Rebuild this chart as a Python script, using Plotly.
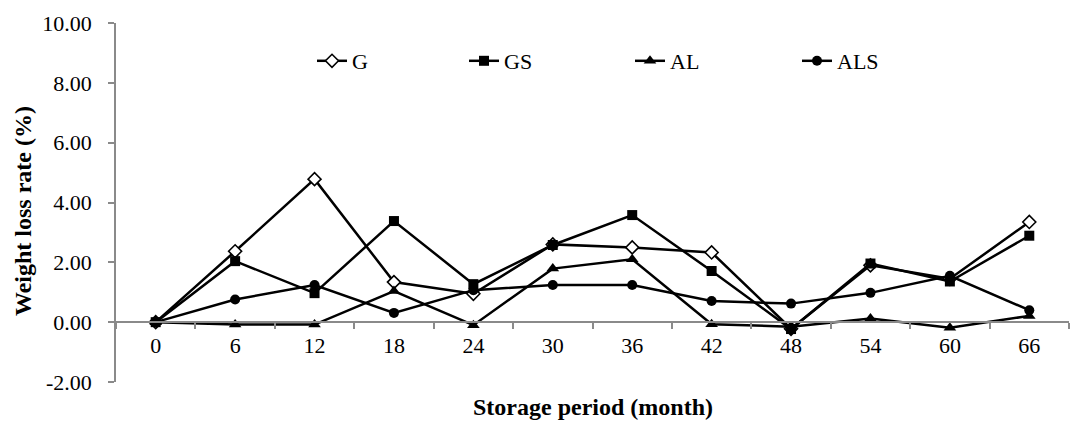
import plotly.graph_objects as go

months = ["0", "6", "12", "18", "24", "30", "36", "42", "48", "54", "60", "66"]
G = [0.00, 2.37, 4.78, 1.34, 0.95, 2.60, 2.50, 2.33, -0.22, 1.90, 1.45, 3.35]
GS = [0.00, 2.04, 0.97, 3.38, 1.27, 2.58, 3.58, 1.71, -0.23, 1.96, 1.36, 2.89]
AL = [0.00, -0.08, -0.08, 1.04, -0.10, 1.79, 2.10, -0.07, -0.15, 0.12, -0.19, 0.21]
ALS = [0.00, 0.76, 1.24, 0.31, 1.07, 1.24, 1.24, 0.71, 0.62, 0.98, 1.55, 0.40]
y_ticks = [-2, 0, 2, 4, 6, 8, 10]

FONT = "Liberation Serif, Times New Roman, serif"
AXIS_GREY = "#8a8a8a"

series = [
    ("G", G, dict(symbol="diamond", size=10, color="white", line=dict(color="black", width=1.6))),
    ("GS", GS, dict(symbol="square", size=10, color="black")),
    ("AL", AL, dict(symbol="triangle-up", size=11, color="black")),
    ("ALS", ALS, dict(symbol="circle", size=10, color="black")),
]
legend_names = ["legend", "legend2", "legend3", "legend4"]
legend_marker_px = [329, 481, 647, 814]

OFF = 8  # page body margin
W, H = 1090 - OFF, 422 - OFF
L, R, T, B = 116 - OFF, 21, 23 - OFF, 40
pw, ph = W - L - R, H - T - B


def px_x(xp):
    return (xp - OFF - L) / pw


def px_y(yp):
    return (OFF + T + ph - yp) / ph


fig = go.Figure()
for (name, vals, mk), lg in zip(series, legend_names):
    fig.add_trace(go.Scatter(
        x=months, y=vals, name=name, mode="lines+markers",
        line=dict(color="black", width=2.5),
        marker=mk, legend=lg,
    ))

legend_common = dict(
    orientation="h", yanchor="middle", xanchor="left",
    font=dict(family=FONT, size=22, color="black"),
    bgcolor="rgba(0,0,0,0)", borderwidth=0,
)
layout_legends = {}
for lg, mp in zip(legend_names, legend_marker_px):
    layout_legends[lg] = dict(legend_common, x=px_x(mp - 17), y=px_y(61))

fig.update_layout(
    width=W, height=H,
    margin=dict(l=L, r=R, t=T, b=B, pad=0, autoexpand=False),
    plot_bgcolor="white", paper_bgcolor="white",
    font=dict(family=FONT, size=22, color="black"),
    showlegend=True,
    xaxis=dict(
        type="category", range=[-0.5, 11.5],
        anchor="free", position=2 / 12, automargin=False,
        showline=True, linecolor=AXIS_GREY, linewidth=1.5,
        ticks="outside", tickson="boundaries", ticklen=6, tickcolor=AXIS_GREY, tickwidth=1.5,
        showgrid=False, zeroline=False,
        tickfont=dict(family=FONT, size=22, color="black"),
        ticklabelstandoff=4,
    ),
    yaxis=dict(
        range=[-2, 10], tickvals=y_ticks, ticktext=[f"{v:.2f}" for v in y_ticks],
        automargin=False,
        showline=True, linecolor=AXIS_GREY, linewidth=1.5,
        ticks="outside", ticklen=6, tickcolor=AXIS_GREY, tickwidth=1.5,
        showgrid=False, zeroline=False,
        tickfont=dict(family=FONT, size=22, color="black"),
        ticklabelstandoff=12,
    ),
    annotations=[
        dict(text="<b>Storage period (month)</b>", xref="paper", yref="paper",
             x=px_x(593), y=px_y(407), xanchor="center", yanchor="middle",
             showarrow=False, font=dict(family=FONT, size=24, color="black")),
        dict(text="<b>Weight loss rate (%)</b>", xref="paper", yref="paper",
             x=px_x(23), y=px_y(211), xanchor="center", yanchor="middle",
             textangle=-90, showarrow=False, font=dict(family=FONT, size=24, color="black")),
    ],
    **layout_legends,
)

fig.write_html("out.html")
